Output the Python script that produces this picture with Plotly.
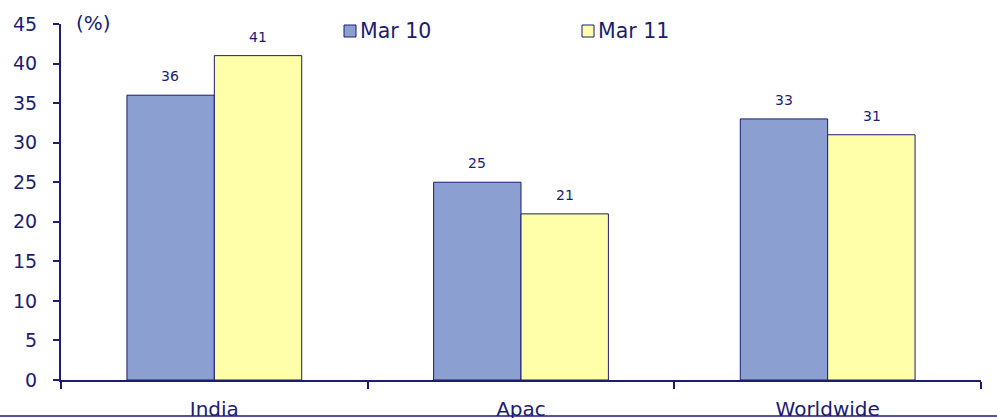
import plotly.graph_objects as go

# Share of respondents by region (%)
regions = ["India", "Apac", "Worldwide"]
mar10 = [36, 25, 33]
mar11 = [41, 21, 31]
series_names = ["Mar 10", "Mar 11"]
y_ticks = [0, 5, 10, 15, 20, 25, 30, 35, 40, 45]

NAVY = "#1c1c72"
BLUE = "#8b9fd0"
YELLOW = "#ffffaa"
FONT = "DejaVu Sans"

W, H = 997, 418
L, R, T, B = 61, 16, 24, 38
PW, PH = W - L - R, H - T - B


def px_x(x):
    return (x - L) / PW


def px_y(y):
    return (H - B - y) / PH


fig = go.Figure()
for name, vals, col in [(series_names[0], mar10, BLUE), (series_names[1], mar11, YELLOW)]:
    fig.add_trace(go.Bar(
        x=regions, y=vals, name=name,
        marker=dict(color=col, line=dict(color=NAVY, width=1)),
        showlegend=False,
    ))

# value labels above each bar
for i, reg in enumerate(regions):
    for vals, off in [(mar10, -0.143), (mar11, 0.143)]:
        fig.add_annotation(
            x=i + off, y=vals[i], xref="x", yref="y",
            text=str(vals[i]), showarrow=False, yanchor="middle", yshift=19,
            font=dict(family=FONT, size=14, color=NAVY),
        )

# unit label
fig.add_annotation(
    x=px_x(74), y=px_y(23), xref="paper", yref="paper", xanchor="left", yanchor="middle",
    text="(%)", showarrow=False, font=dict(family=FONT, size=20, color=NAVY),
)

# legend: swatch + text
for name, col, sx in [(series_names[0], BLUE, 344), (series_names[1], YELLOW, 582)]:
    fig.add_shape(
        type="rect", xref="paper", yref="paper",
        x0=px_x(sx), x1=px_x(sx + 12), y0=px_y(37), y1=px_y(25),
        fillcolor=col, line=dict(color=NAVY, width=1),
    )
    fig.add_annotation(
        x=px_x(sx + 14), y=px_y(31), xref="paper", yref="paper",
        xanchor="left", yanchor="middle", text=name, showarrow=False,
        font=dict(family=FONT, size=20.5, color=NAVY),
    )

# frame line along the bottom edge
fig.add_shape(
    type="line", xref="paper", yref="paper",
    x0=px_x(0), x1=px_x(W), y0=px_y(416), y1=px_y(416),
    line=dict(color=NAVY, width=1.5),
)

fig.update_layout(
    width=W, height=H,
    margin=dict(l=L, r=R, t=T, b=B),
    paper_bgcolor="white", plot_bgcolor="white",
    barmode="group", bargap=0.43, bargroupgap=0,
    font=dict(family=FONT, color=NAVY),
    xaxis=dict(
        type="category", range=[-0.5, 2.5], tickson="boundaries",
        showline=True, linecolor=NAVY, linewidth=2,
        ticks="outside", ticklen=7, tickwidth=2, tickcolor=NAVY,
        ticklabelstandoff=10, automargin=False,
        tickfont=dict(family=FONT, size=20, color=NAVY),
        showgrid=False, zeroline=False,
    ),
    yaxis=dict(
        range=[0, 45], tickvals=y_ticks,
        showline=True, linecolor=NAVY, linewidth=2,
        ticks="outside", ticklen=6, tickwidth=2, tickcolor=NAVY,
        ticklabelstandoff=12, automargin=False,
        tickfont=dict(family=FONT, size=19, color=NAVY),
        showgrid=False, zeroline=False,
    ),
)

fig.write_html("out.html")
